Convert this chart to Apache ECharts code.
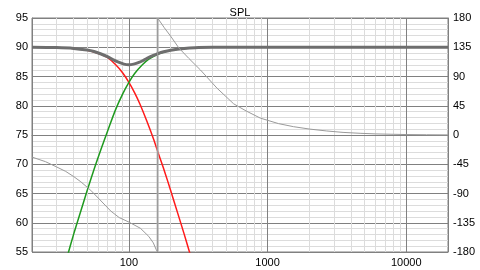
<!DOCTYPE html>
<html>
<head>
<meta charset="utf-8">
<script src="https://cdn.jsdelivr.net/npm/echarts@6/dist/echarts.min.js"></script>
<style>
html,body{margin:0;padding:0;background:#fff;}
#c{width:480px;height:270px;}
</style>
</head>
<body>
<div id="c"></div>
<script>
// ---- data ----
const lowFreq = [35, 40, 45, 50, 56, 63, 70, 80, 90, 100, 110, 120, 135, 150, 165, 180, 200, 225, 250, 275, 290];
const lowSPL  = [89.87, 89.78, 89.65, 89.48, 89.2, 88.8, 88.25, 87.05, 85.65, 84.0, 82.2, 80.3, 77.3, 74.4, 71.5, 68.9, 65.5, 61.6, 58.1, 54.8, 53.1];

const highFreq = [35, 40, 45, 50, 56, 63, 70, 80, 90, 100, 110, 125, 140, 160, 180, 200, 225, 250, 290];
const highSPL  = [53.3, 58.1, 62.0, 65.5, 69.1, 72.6, 75.6, 79.3, 82.0, 84.0, 85.5, 87.0, 88.0, 88.77, 89.2, 89.47, 89.67, 89.78, 89.88];

const sumFreq = [20, 30, 40, 50, 56, 63, 70, 78, 85, 92, 100, 108, 118, 128, 135, 150, 160, 178, 200, 250, 300, 400, 1000, 20000];
const sumSPL  = [90, 89.94, 89.8, 89.52, 89.27, 88.85, 88.4, 87.8, 87.4, 87.12, 87.02, 87.12, 87.4, 87.8, 88.1, 88.6, 88.87, 89.23, 89.5, 89.8, 89.93, 89.98, 90, 90];

const phaseFreq = [20, 25, 30, 35, 40, 45, 53, 62, 74, 85, 100, 121, 139, 150, 157, 161, 161, 180, 200, 229, 270, 328, 432, 569, 700, 886, 1200, 1538, 2028, 2673, 3500, 4645, 6000, 8070, 10000, 14000, 20000];
const phaseDeg  = [-34, -41, -49, -56, -64, -72, -85, -100, -117, -127, -134, -143.5, -156, -166, -176, -180, 180, 165, 152, 134, 118, 100, 72, 48, 37, 26, 17.5, 12.8, 9, 6.2, 4, 2.6, 1.7, 1.1, 0.7, 0.4, 0.2];
const phaseWrapIndex = 15; // the wrap from -180 to +180 happens between this point and the next

const leftTicks = {min: 55, max: 95, interval: 5};
const rightTicks = {min: -180, max: 180, interval: 45};
const xRange = {min: 20, max: 20000};

function pairs(xs, ys) { return xs.map((x, i) => [x, ys[i]]); }

const FONT = 'Liberation Sans, Arial, sans-serif';
const MAJOR = '#808080';
const MINOR = '#dcdcdc';

const phasePairs = pairs(phaseFreq, phaseDeg);

const chart = echarts.init(document.getElementById('c'), null, {renderer: 'canvas'});
chart.setOption({
  animation: false,
  backgroundColor: '#ffffff',
  title: {
    text: 'SPL', left: 'center', top: 2,
    textStyle: {fontFamily: FONT, fontSize: 11, fontWeight: 'normal', color: '#000'}
  },
  grid: {left: 32, right: 32, top: 18, bottom: 18, show: true, borderColor: MAJOR, borderWidth: 1, containLabel: false},
  xAxis: {
    type: 'log', logBase: 10, min: xRange.min, max: xRange.max,
    axisLine: {show: true, lineStyle: {color: MAJOR}},
    axisTick: {show: false},
    minorTick: {show: false, splitNumber: 9},
    axisLabel: {fontFamily: FONT, fontSize: 11, color: '#000', margin: 5, showMinLabel: false, showMaxLabel: false,
                formatter: function (v) { return String(Math.round(v)); }},
    splitLine: {show: true, lineStyle: {color: MAJOR, width: 1}},
    minorSplitLine: {show: true, lineStyle: {color: MINOR, width: 1}}
  },
  yAxis: [
    {
      type: 'value', position: 'left', min: leftTicks.min, max: leftTicks.max, interval: leftTicks.interval,
      axisLine: {show: true, lineStyle: {color: MAJOR}},
      axisTick: {show: false},
      minorTick: {show: false, splitNumber: 5},
      axisLabel: {fontFamily: FONT, fontSize: 11, color: '#000', margin: 4},
      splitLine: {show: true, lineStyle: {color: MAJOR, width: 1}},
      minorSplitLine: {show: true, lineStyle: {color: MINOR, width: 1}}
    },
    {
      type: 'value', position: 'right', min: rightTicks.min, max: rightTicks.max, interval: rightTicks.interval,
      axisLine: {show: true, lineStyle: {color: MAJOR}},
      axisTick: {show: false},
      axisLabel: {fontFamily: FONT, fontSize: 11, color: '#000', margin: 5},
      splitLine: {show: false}
    }
  ],
  series: [
    {type: 'line', name: 'LP', data: pairs(lowFreq, lowSPL), yAxisIndex: 0, symbol: 'none', smooth: 0.3, clip: true,
     lineStyle: {color: '#ff1a1a', width: 1.5}, z: 2},
    {type: 'line', name: 'HP', data: pairs(highFreq, highSPL), yAxisIndex: 0, symbol: 'none', smooth: 0.3, clip: true,
     lineStyle: {color: '#1f9a1f', width: 1.5}, z: 3},
    {type: 'line', name: 'PhaseWrap', data: phasePairs.slice(phaseWrapIndex, phaseWrapIndex + 2), yAxisIndex: 1,
     symbol: 'none', smooth: false, clip: true, lineStyle: {color: '#b4b4b4', width: 2}, z: 3},
    {type: 'line', name: 'Sum', data: pairs(sumFreq, sumSPL), yAxisIndex: 0, symbol: 'none', smooth: 0.3, clip: true,
     lineStyle: {color: '#6e6e6e', width: 3}, z: 4},
    {type: 'line', name: 'Phase', data: phasePairs, yAxisIndex: 1, symbol: 'none', smooth: false, clip: true,
     lineStyle: {color: '#9a9a9a', width: 1}, z: 5}
  ]
});
</script>
</body>
</html>
